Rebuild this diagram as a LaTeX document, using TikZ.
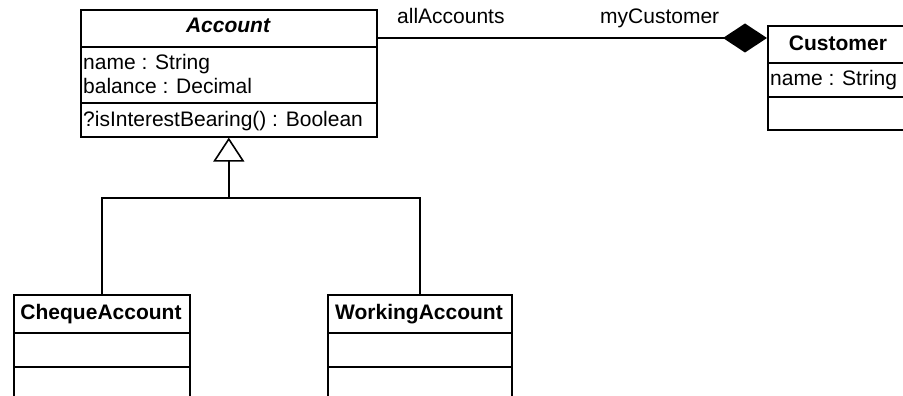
\documentclass[tikz,border=0pt]{standalone}
\usepackage{fontspec}
\setmainfont{Liberation Sans}
\usetikzlibrary{arrows.meta}
\newcommand\umlsize{\fontsize{21}{24}\selectfont}
\begin{document}
\begin{tikzpicture}[x=1pt,y=-1pt,
  classbox/.style={draw, line width=1.6pt, inner sep=0pt, anchor=north west},
  umlline/.style={line width=1.6pt},
  title/.style={inner sep=0pt, anchor=base, font=\umlsize\bfseries},
  member/.style={inner sep=0pt, anchor=base west, font=\umlsize},
  role/.style={inner sep=0pt, anchor=base west, font=\umlsize}]
\useasboundingbox (0,0) rectangle (903,396);
\clip (0,0) rectangle (903,396);

% class boxes
\node[classbox, minimum width=296pt, minimum height=127pt] (acc) at (80,9) {};
\node[classbox, minimum width=142pt, minimum height=104pt] (cust) at (767,25) {};
\node[classbox, minimum width=176pt, minimum height=130pt] (cheque) at (13,294) {};
\node[classbox, minimum width=184pt, minimum height=130pt] (working) at (327,294) {};

% compartment dividers
\draw[umlline] (acc.west |- 0,47) -- (acc.east |- 0,47);
\draw[umlline] (acc.west |- 0,103) -- (acc.east |- 0,103);
\draw[umlline] (cust.west |- 0,63) -- (cust.east |- 0,63);
\draw[umlline] (cust.west |- 0,97) -- (cust.east |- 0,97);
\draw[umlline] (cheque.west |- 0,333) -- (cheque.east |- 0,333);
\draw[umlline] (cheque.west |- 0,367) -- (cheque.east |- 0,367);
\draw[umlline] (working.west |- 0,333) -- (working.east |- 0,333);
\draw[umlline] (working.west |- 0,367) -- (working.east |- 0,367);

% class names
\node[title, font=\umlsize\bfseries\itshape] (accname) at (228,33) {Account};
\node[title] (custname) at (838,51) {Customer};
\node[title] (chequename) at (101,319) {ChequeAccount};
\node[title] (workingname) at (419,319) {WorkingAccount};

% members
\node[member] (accattr1) at (83,70) {name : String};
\node[member] (accattr2) at (83,94) {balance : Decimal};
\node[member] (accop) at (83,127) {?isInterestBearing() : Boolean};
\node[member] (custattr) at (770,86) {name : String};

% association with composition end
\coordinate (assoc) at (0,38);
\draw[umlline, -{Diamond[length=44pt, width=29pt, fill=black]}]
  (acc.north east |- assoc) -- (cust.north west |- assoc);
\node[role] (rolea) at (397,24) {allAccounts};
\node[role] (roleb) at (600,24) {myCustomer};

% generalization
\coordinate (join) at (acc.south |- 0,198);
\draw[umlline] (cheque.north) |- (join) -| (working.north);
\draw[umlline, -{Triangle[open, length=24pt, width=31pt, fill=white]}]
  (join) -- (acc.south);
\end{tikzpicture}
\end{document}
